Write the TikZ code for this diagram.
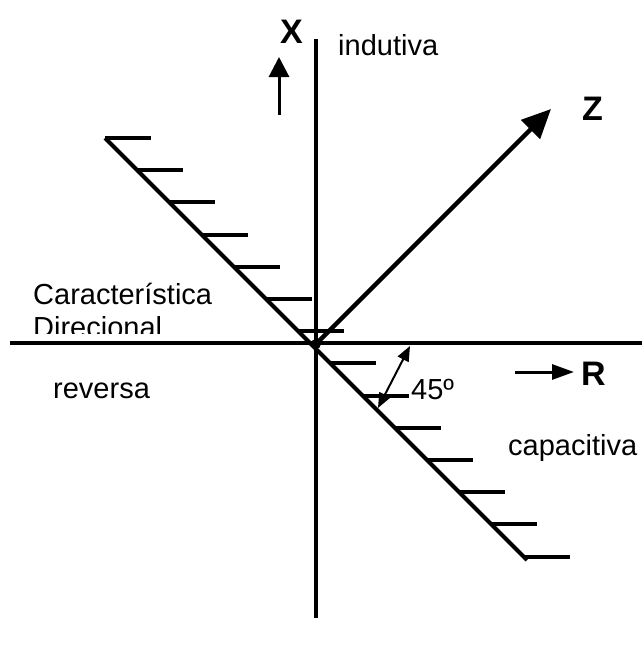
\documentclass[tikz,border=0pt]{standalone}
\usepackage{fontspec}
\setmainfont{Liberation Sans}
\usetikzlibrary{arrows.meta}
\tikzset{
  axisline/.style={line width=4.5pt},
  hatch/.style={line width=4pt},
  bigarrow/.style={line width=4.5pt,-{Triangle[length=29pt,width=26pt]}},
  xarrow/.style={line width=3pt,-{Triangle[length=20pt,width=20pt]}},
  rarrow/.style={line width=3pt,-{Triangle[length=22pt,width=15pt]}},
  anglearrow/.style={line width=2pt,{Triangle[length=15pt,width=12pt]}-{Triangle[length=15pt,width=12pt]}},
  lbl/.style={font=\fontsize{29}{33}\selectfont,inner sep=0pt,anchor=base west},
  blbl/.style={font=\fontsize{34}{38}\selectfont\bfseries,inner sep=0pt,anchor=base west}
}
\begin{document}
\begin{tikzpicture}[x=1pt,y=-1pt]
\useasboundingbox[fill=white] (0,0) rectangle (642,645);
% axes
\coordinate (Vtop) at (316,39);
\coordinate (Vbot) at (316,618);
\coordinate (Hl) at (10,343);
\coordinate (Hr) at (642,343);
\coordinate (O) at (316,344);
\draw[axisline] (Vtop) -- (Vbot);
\draw[axisline] (Hl) -- (Hr);
% directional characteristic line with hatches
\coordinate (D1) at (105,138);
\coordinate (D2) at (527,560);
\draw[hatch] (D1) -- (D2);
\foreach \i in {0,...,13}{
  \draw[hatch] ({105+32.2*\i},{138+32.2*\i}) -- ++(46,0);
}
\fill (O) circle (5);
% Z arrow
\coordinate (Ztip) at (551,109);
\draw[bigarrow] (O) -- (Ztip);
\node[blbl] (Z) at (582,120) {Z};
% X arrow
\coordinate (Xb) at (279,115);
\coordinate (Xt) at (279,57);
\draw[xarrow] (Xb) -- (Xt);
\node[blbl] (X) at (280,43) {X};
% R arrow
\coordinate (Rb) at (515,372);
\coordinate (Rt) at (574,372);
\draw[rarrow] (Rb) -- (Rt);
\node[blbl] (R) at (581,385) {R};
% 45 degree arrow
\coordinate (A1) at (378,408);
\coordinate (A2) at (410,346);
\draw[anglearrow] (A1) -- (A2);
\node[lbl] (deg) at (411,399) {45º};
% labels
\node[lbl] (ind) at (338,55) {indutiva};
\node[lbl] (car) at (33,304) {Característica};
\begin{scope}
\clip (0,300) rectangle (300,333);
\node[lbl] (dir) at (33,337) {Direcional};
\end{scope}
\node[lbl] (rev) at (53,398) {reversa};
\node[lbl] (cap) at (508,455) {capacitiva};
\end{tikzpicture}
\end{document}
